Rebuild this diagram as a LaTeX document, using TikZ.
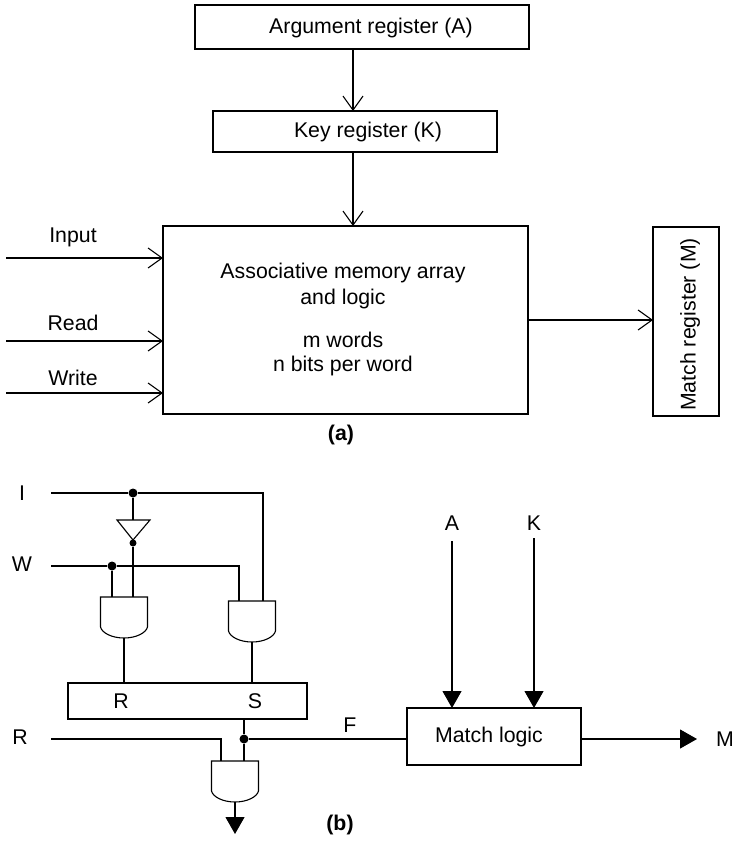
\documentclass[tikz,border=0pt]{standalone}
\usepackage{fontspec}
\setmainfont{Liberation Sans}
\usetikzlibrary{arrows.meta}
\begin{document}
\begin{tikzpicture}[x=1bp,y=-1bp,
  lw/.style={line width=1.1bp},
  box/.style={draw,lw,inner sep=0pt,outer sep=0pt},
  txt/.style={inner sep=0pt,font=\fontsize{21.3bp}{25.6bp}\selectfont},
  captxt/.style={inner sep=0pt,font=\fontsize{21.3bp}{25.6bp}\selectfont\bfseries},
  openarr/.style={lw,-{Straight Barb[length=14bp,width=20bp]}},
  solarr/.style={lw,-{Triangle[length=17bp,width=19bp]}},
  junc/.style={circle,fill,inner sep=0pt,minimum size=9bp},
  bubble/.style={circle,fill,inner sep=0pt,minimum size=7bp},
  andgate/.pic={\draw[lw] (-23.5,0) -- (23.5,0) -- (23.5,30)
     .. controls (22,36) and (12,41) .. (0,41)
     .. controls (-12,41) and (-22,36) .. (-23.5,30) -- cycle;},
]
\useasboundingbox (0,0) rectangle (734,841);
\fill[white] (0,0) rectangle (734,841);

% ---------------- (a) ----------------
\node[box,minimum width=334bp,minimum height=44bp] (arg) at (362,27) {};
\node[txt] (argt) at (371,28) {Argument register (A)};
\node[box,minimum width=284bp,minimum height=41bp] (key) at (355,131.5) {};
\node[txt] (keyt) at (368,132) {Key register (K)};
\node[box,minimum width=365bp,minimum height=188bp] (mem) at (345.5,320) {};
\node[txt] (m1) at (343,273) {Associative memory array};
\node[txt] (m2) at (343,299) {and logic};
\node[txt] (m3) at (343,340) {m words};
\node[txt] (m4) at (343,366) {n bits per word};
\node[box,minimum width=66bp,minimum height=189bp] (mreg) at (686,321.5) {};
\node[txt,rotate=90] (mregt) at (690,324.5) {Match register (M)};

\draw[openarr] ([xshift=-9bp]arg.south) -- ([xshift=-9bp]arg.south |- key.north);
\draw[openarr] ([xshift=-2bp]key.south) -- ([xshift=-2bp]key.south |- mem.north);

\coordinate (inI) at (6,258);
\coordinate (inR) at (6,341);
\coordinate (inW) at (6,393);
\node[txt] (lInput) at (73,237) {Input};
\node[txt] (lRead) at (73,323) {Read};
\node[txt] (lWrite) at (73,378) {Write};
\draw[openarr] (inI) -- (inI -| mem.west);
\draw[openarr] (inR) -- (inR -| mem.west);
\draw[openarr] (inW) -- (inW -| mem.west);
\draw[openarr] (mem.east) -- (mem.east -| mreg.west);
\node[captxt] (capa) at (341,435) {(a)};

% ---------------- (b) ----------------
\node[txt] (lI) at (22,493) {I};
\node[txt] (lW) at (22,564) {W};
\node[txt] (lR) at (20,737) {R};
\coordinate (Iin) at (51,493);
\coordinate (Win) at (51,566);
\coordinate (Rin) at (51,739);
\node[junc] (dI) at (133,493) {};
\node[junc] (dW) at (112,566) {};

% gates
\pic at (124,597) {andgate};
\pic at (252,601) {andgate};
\pic at (235,761) {andgate};
\coordinate (g1a) at (112,597);
\coordinate (g1b) at (133,597);
\coordinate (g1o) at (124,638);
\coordinate (g2a) at (239,601);
\coordinate (g2b) at (263,601);
\coordinate (g2o) at (252,642);
\coordinate (g3a) at (221,761);
\coordinate (g3b) at (244,761);
\coordinate (g3o) at (235,802);
\coordinate (out3) at (235,834);

% inverter
\draw[lw] (117,520) coordinate (invl) -- (150,520) -- (133,540) -- cycle;
\coordinate (invin) at (133,520);
\node[bubble] (invo) at (133,543) {};

% RS flip-flop
\node[box,minimum width=239bp,minimum height=36bp] (rs) at (187.5,701) {};
\node[txt] (rsR) at (121,701) {R};
\node[txt] (rsS) at (255,701) {S};

% wires
\draw[lw] (Iin) -- (dI) -- (Iin -| g2b) -- (g2b);
\draw[lw] (dI) -- (invin);
\draw[lw] (invo) -- (g1b);
\draw[lw] (Win) -- (dW) -- (Win -| g2a) -- (g2a);
\draw[lw] (dW) -- (g1a);
\draw[lw] (g1o) -- (g1o |- rs.north);
\draw[lw] (g2o) -- (g2o |- rs.north);
\node[junc] (dF) at (244,739) {};
\draw[lw] (dF |- rs.south) -- (dF);
\draw[lw] (dF) -- (g3b);
\draw[lw] (Rin) -- (Rin -| g3a) -- (g3a);
\draw[solarr] (g3o) -- (out3);
\node[captxt] (capb) at (340,825) {(b)};

% match logic
\node[box,minimum width=174bp,minimum height=57bp] (ml) at (494,736.5) {};
\node[txt] (mlt) at (489,737) {Match logic};
\node[txt] (lF) at (350,725) {F};
\draw[lw] (dF) -- (dF -| ml.west);
\node[txt] (lA) at (452,523) {A};
\node[txt] (lK) at (534,523) {K};
\coordinate (Atop) at (452,541);
\coordinate (Ktop) at (534,538);
\draw[solarr] (Atop) -- (Atop |- ml.north);
\draw[solarr] (Ktop) -- (Ktop |- ml.north);
\coordinate (Mend) at (697,739);
\node[txt] (lM) at (725,739) {M};
\draw[solarr] (dF -| ml.east) -- (Mend);
\end{tikzpicture}
\end{document}
